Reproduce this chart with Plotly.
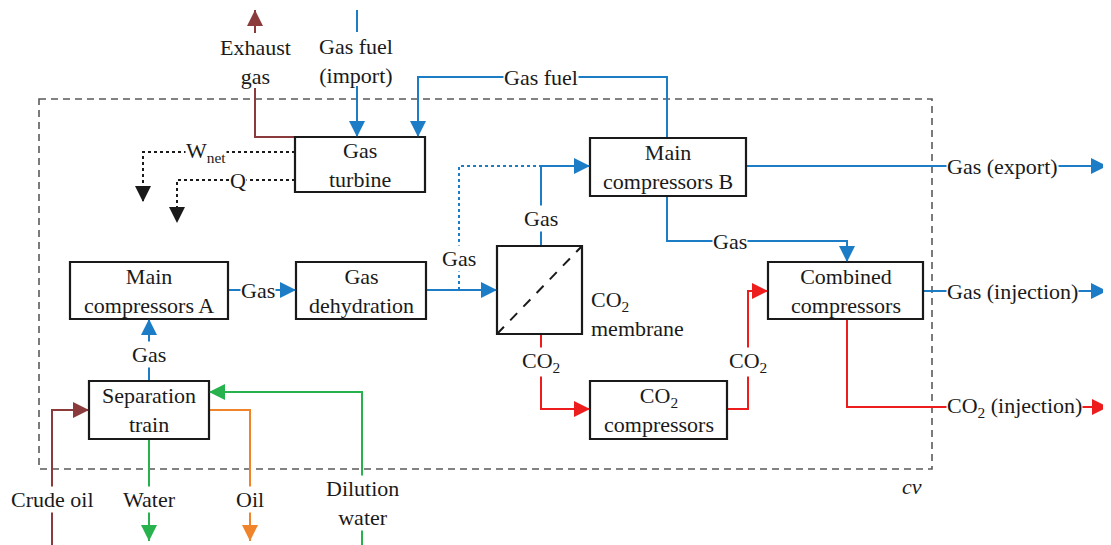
import plotly.graph_objects as go

# ---- diagram content (text) ----
box_labels = ["Gas<br>turbine", "Main<br>compressors B", "Main<br>compressors A",
              "Gas<br>dehydration", "Combined<br>compressors", "Separation<br>train",
              "CO<sub>2</sub><br>compressors"]
flow_labels = ["Gas fuel", "Gas", "Gas", "Gas", "Gas", "Gas (export)", "Gas",
               "Gas (injection)", "CO<sub>2</sub>", "CO<sub>2</sub>", "CO<sub>2</sub> (injection)",
               "Crude oil", "Water", "Dilution<br>water", "Oil", "W<sub>net</sub>", "Q"]
free_labels = ["Exhaust<br>gas", "Gas fuel<br>(import)"]
membrane_label = "CO<sub>2</sub><br>membrane"
cv_label = "cv"

# ---- layout geometry (pixel coordinates) ----
box_geom = [(295, 137, 425, 192), (590, 138, 746, 196), (70, 262, 228, 319),
            (296, 262, 426, 319), (768, 262, 923, 319), (89, 381, 209, 439),
            (590, 381, 727, 439)]
membrane_geom = (497, 246, 582, 334)
cv_geom = (39, 99, 932, 469)

BLUE = "#1c7cc6"
RED = "#ee1d1d"
BROWN = "#8b3b3b"
GREEN = "#27b24e"
ORANGE = "#f0842a"
BLACK = "#1a1a1a"
FONT = "Liberation Serif, Times New Roman, serif"
FS = 22

# polylines: (points, color, dash, arrow_at_end)
paths = [
    ([(357, 10), (357, 32)], BLUE, "solid", False),
    ([(357, 86), (357, 137)], BLUE, "solid", True),
    ([(667, 138), (667, 77), (418, 77), (418, 137)], BLUE, "solid", True),
    ([(149, 381), (149, 319)], BLUE, "solid", True),
    ([(228, 290), (296, 290)], BLUE, "solid", True),
    ([(426, 290), (497, 290)], BLUE, "solid", True),
    ([(459, 290), (459, 166), (541, 166)], BLUE, "dot", False),
    ([(541, 246), (541, 166), (590, 166)], BLUE, "solid", True),
    ([(746, 166), (1107, 166)], BLUE, "solid", True),
    ([(667, 196), (667, 241), (847, 241), (847, 262)], BLUE, "solid", True),
    ([(923, 291), (1107, 291)], BLUE, "solid", True),
    ([(541, 334), (541, 409), (590, 409)], RED, "solid", True),
    ([(727, 409), (748, 409), (748, 291), (768, 291)], RED, "solid", True),
    ([(847, 319), (847, 407), (1108, 407)], RED, "solid", True),
    ([(295, 137), (255, 137), (255, 88)], BROWN, "solid", False),
    ([(255, 33), (255, 10)], BROWN, "solid", True),
    ([(52, 545), (52, 410), (89, 410)], BROWN, "solid", True),
    ([(149, 439), (149, 541)], GREEN, "solid", True),
    ([(362, 545), (362, 392), (209, 392)], GREEN, "solid", True),
    ([(209, 410), (250, 410), (250, 541)], ORANGE, "solid", True),
    ([(295, 152), (143, 152), (143, 202)], BLACK, "dot", True),
    ([(295, 180), (177, 180), (177, 223)], BLACK, "dot", True),
]

flow_label_pos = [(541, 77), (149, 354), (258, 290), (459, 258), (541, 218),
                  (1002, 166), (730, 241), (1012, 291), (541, 362), (748, 362),
                  (1014, 407), (52, 499), (149, 499), (362, 503), (250, 499),
                  (206, 152), (238, 180)]
free_label_pos = [(255, 62), (356, 61)]

fig = go.Figure()

TAIL = 16
for pts, col, dash, arrow in paths:
    xs = [p[0] for p in pts]
    ys = [p[1] for p in pts]
    fig.add_trace(go.Scatter(x=xs, y=ys, mode="lines",
                             line=dict(color=col, width=2, dash=dash),
                             hoverinfo="skip", showlegend=False))
    if arrow:
        (x0, y0), (x1, y1) = pts[-2], pts[-1]
        t = TAIL if dash == "solid" else 9
        dx = 0 if x1 == x0 else (t if x1 > x0 else -t)
        dy = 0 if y1 == y0 else (t if y1 > y0 else -t)
        fig.add_annotation(x=x1, y=y1, ax=x1 - dx, ay=y1 - dy,
                           xref="x", yref="y", axref="x", ayref="y",
                           text="", showarrow=True, arrowhead=2,
                           arrowsize=1.6, arrowwidth=2, arrowcolor=col,
                           standoff=0)

# boxes
for (x0, y0, x1, y1), lab in zip(box_geom, box_labels):
    fig.add_shape(type="rect", x0=x0, y0=y0, x1=x1, y1=y1,
                  line=dict(color=BLACK, width=2.2), fillcolor="rgba(0,0,0,0)")
    fig.add_annotation(x=(x0 + x1) / 2, y=(y0 + y1) / 2, text=lab,
                       showarrow=False, font=dict(family=FONT, size=FS, color=BLACK))

# membrane
mx0, my0, mx1, my1 = membrane_geom
fig.add_shape(type="rect", x0=mx0, y0=my0, x1=mx1, y1=my1,
              line=dict(color=BLACK, width=2.2))
fig.add_shape(type="line", x0=mx0, y0=my1, x1=mx1, y1=my0,
              line=dict(color=BLACK, width=2, dash="10px,9px"))
fig.add_annotation(x=589, y=314, text=membrane_label, showarrow=False,
                   xanchor="left", align="left",
                   font=dict(family=FONT, size=FS, color=BLACK))

# control volume
cx0, cy0, cx1, cy1 = cv_geom
fig.add_shape(type="rect", x0=cx0, y0=cy0, x1=cx1, y1=cy1, layer="below",
              line=dict(color="#5a5a5a", width=1.6, dash="7px,5px"))
fig.add_annotation(x=912, y=486, text="<i>" + cv_label + "</i>", showarrow=False,
                   font=dict(family=FONT, size=FS, color=BLACK))

# flow labels with white background
for (x, y), lab in zip(flow_label_pos, flow_labels):
    fig.add_annotation(x=x, y=y, text=lab, showarrow=False, bgcolor="white",
                       borderpad=0, font=dict(family=FONT, size=FS, color=BLACK))

for (x, y), lab in zip(free_label_pos, free_labels):
    fig.add_annotation(x=x, y=y, text=lab, showarrow=False,
                       font=dict(family=FONT, size=FS, color=BLACK))

# the page body has an 8px margin: map data units 1:1 to window pixels
OFF = 8
fig.update_layout(
    width=1111 - OFF, height=545 - OFF,
    margin=dict(l=0, r=0, t=0, b=0),
    plot_bgcolor="white", paper_bgcolor="white",
    xaxis=dict(range=[OFF, 1111], visible=False, fixedrange=True),
    yaxis=dict(range=[545, OFF], visible=False, fixedrange=True),
    showlegend=False,
)

fig.write_html("out.html")
